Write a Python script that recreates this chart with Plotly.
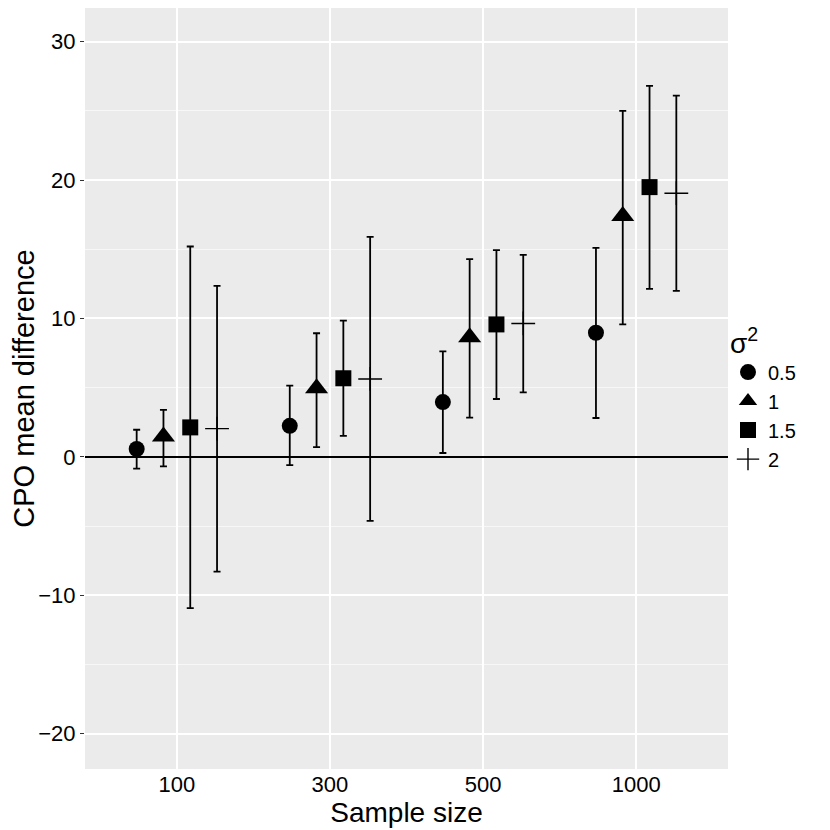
import plotly.graph_objects as go

# ---- data ----
categories = ["100", "300", "500", "1000"]
series_names = ["0.5", "1", "1.5", "2"]

mean_05 = [0.57, 2.24, 3.96, 8.97]
low_05 = [-0.85, -0.60, 0.28, 2.81]
high_05 = [1.96, 5.15, 7.62, 15.10]

mean_1 = [1.48, 4.95, 8.65, 17.40]
low_1 = [-0.68, 0.70, 2.83, 9.57]
high_1 = [3.40, 8.93, 14.29, 25.00]

mean_15 = [2.13, 5.68, 9.57, 19.49]
low_15 = [-10.93, 1.52, 4.18, 12.14]
high_15 = [15.20, 9.84, 14.94, 26.80]

mean_2 = [2.04, 5.63, 9.64, 19.05]
low_2 = [-8.29, -4.62, 4.66, 12.00]
high_2 = [12.36, 15.90, 14.60, 26.10]

means = [mean_05, mean_1, mean_15, mean_2]
lows = [low_05, low_1, low_15, low_2]
highs = [high_05, high_1, high_15, high_2]

y_ticks = [-20, -10, 0, 10, 20, 30]

# ---- styling ----
symbols = ["circle", "triangle-up", "square", "cross-thin"]
sizes = [16, 20, 16, 17]
FONT = "Liberation Sans, Arial, sans-serif"
dodge = 0.175

fig = go.Figure()
for i, name in enumerate(series_names):
    xs = [j + 1 + (i - 1.5) * dodge for j in range(len(categories))]
    m = means[i]
    up = [h - v for h, v in zip(highs[i], m)]
    dn = [v - l for v, l in zip(m, lows[i])]
    fig.add_trace(go.Scatter(
        x=xs, y=m, mode="markers", name=name,
        marker=dict(symbol=symbols[i], size=sizes[i], color="black",
                    line=dict(width=1.4 if symbols[i] == "cross-thin" else 0, color="black")),
        error_y=dict(type="data", symmetric=False, array=up, arrayminus=dn,
                     color="black", thickness=1.8, width=3.5),
    ))

# page body has an 8px default margin, so the figure is 822 px and offsets are reduced
fig.update_layout(
    width=822, height=822,
    margin=dict(l=77, r=102, t=0, b=61, autoexpand=False),
    paper_bgcolor="white",
    plot_bgcolor="#EBEBEB",
    font=dict(family=FONT, size=22, color="black"),
    showlegend=True,
    legend=dict(
        title=dict(text="σ<sup>2</sup>", font=dict(size=28)),
        x=1.0, xanchor="left", y=0.595, yanchor="top",
        font=dict(size=20), tracegroupgap=0,
        bgcolor="rgba(0,0,0,0)", itemwidth=30,
    ),
    xaxis=dict(
        range=[0.4, 4.6], tickvals=[1, 2, 3, 4], ticktext=categories,
        showgrid=True, gridcolor="white", gridwidth=1.8,
        zeroline=False, showline=False, ticks="", automargin=False,
        tickfont=dict(size=22, color="black"),
        title=dict(text="Sample size", font=dict(size=28), standoff=2),
    ),
    yaxis=dict(
        range=[-22.55, 32.43], tickvals=y_ticks, automargin=False,
        showgrid=True, gridcolor="white", gridwidth=1.8,
        minor=dict(dtick=5, tick0=0, showgrid=True, gridcolor="#F7F7F7", gridwidth=0.9),
        zeroline=True, zerolinecolor="black", zerolinewidth=1.6,
        showline=False, ticks="outside", ticklen=4, tickcolor="#333333", tickwidth=1,
        tickfont=dict(size=22, color="black"),
        title=dict(text="CPO mean difference", font=dict(size=29), standoff=1),
    ),
)

fig.write_html("out.html")
